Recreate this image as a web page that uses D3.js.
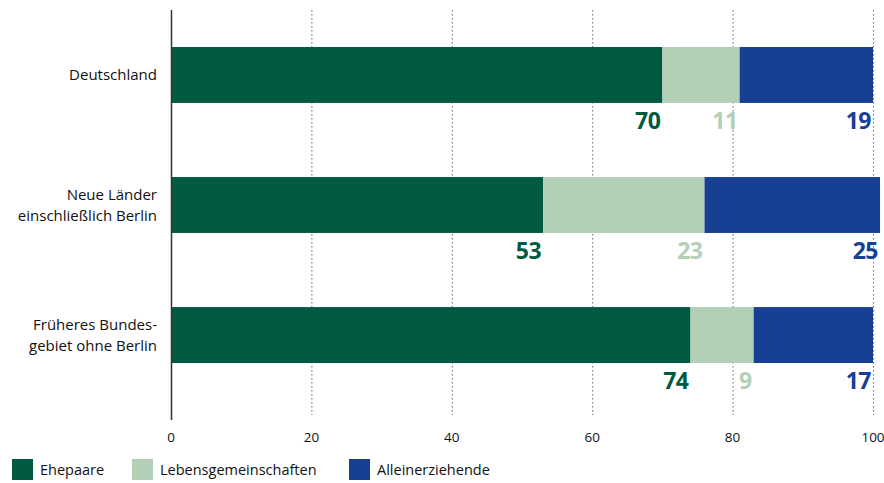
<!DOCTYPE html>
<html>
<head>
<meta charset="utf-8">
<script src="https://cdn.jsdelivr.net/npm/d3@7"></script>
<style>
  body { margin: 0; background: #fff; }
  svg { font-family: "Open Sans", "Noto Sans", sans-serif; }
</style>
</head>
<body>
<div id="chart"></div>
<script>
// Family types by region, in percent

var regions = [
    ["Deutschland"],
    ["Neue Länder", "einschließlich Berlin"],
    ["Früheres Bundes-", "gebiet ohne Berlin"]
];
var seriesNames = ["Ehepaare", "Lebensgemeinschaften", "Alleinerziehende"];
var ehepaare = [70, 53, 74];
var lebensgemeinschaften = [11, 23, 9];
var alleinerziehende = [19, 25, 17];
var xTicks = [0, 20, 40, 60, 80, 100];

var colors = ["#005a42", "#b3d0b6", "#173f94"];

var width = 884, height = 483;
var margin = { top: 10, left: 171, right: 11, bottom: 63 };

var rows = regions.map(function(r, i) {
    return {
        key: i,
        name: r,
        Ehepaare: ehepaare[i],
        Lebensgemeinschaften: lebensgemeinschaften[i],
        Alleinerziehende: alleinerziehende[i]
    };
});

var xScale = d3.scaleLinear()
    .domain([0, 100])
    .range([margin.left, 873]);

var yScale = d3.scaleBand()
    .domain(rows.map(function(d) { return d.key; }))
    .range([8, 402])
    .paddingInner(0.57)
    .paddingOuter(0.3);

var colorScale = d3.scaleOrdinal().domain(seriesNames).range(colors);

var svg = d3.select("#chart").append("svg")
    .attr("width", width)
    .attr("height", height);

// dotted grid lines
svg.append("g").selectAll("line")
    .data(xTicks.slice(1))
  .enter().append("line")
    .attr("x1", function(d) { return xScale(d) + 0.5; })
    .attr("x2", function(d) { return xScale(d) + 0.5; })
    .attr("y1", 10)
    .attr("y2", 415)
    .attr("stroke", "#666")
    .attr("stroke-width", 1)
    .attr("stroke-dasharray", "1.5,2.5");

var stack = d3.stack().keys(seriesNames);
var layers = stack(rows);

var layerG = svg.selectAll(".layer")
    .data(layers)
  .enter().append("g")
    .attr("class", "layer")
    .attr("fill", function(d) { return colorScale(d.key); });

layerG.selectAll("rect")
    .data(function(d) { return d; })
  .enter().append("rect")
    .attr("x", function(d) { return xScale(d[0]); })
    .attr("y", function(d) { return yScale(d.data.key); })
    .attr("width", function(d) { return xScale(d[1]) - xScale(d[0]); })
    .attr("height", yScale.bandwidth());

// value labels below each segment, right aligned
layerG.selectAll("text")
    .data(function(d) { return d.map(function(p) { p.k = d.key; return p; }); })
  .enter().append("text")
    .attr("x", function(d) { return xScale(d[1]) - 2; })
    .attr("y", function(d) { return yScale(d.data.key) + yScale.bandwidth() + 26; })
    .attr("text-anchor", "end")
    .attr("font-size", 23)
    .attr("font-weight", "bold")
    .attr("letter-spacing", -0.5)
    .text(function(d) { return d.data[d.k]; });

// axis line
svg.append("line")
    .attr("x1", xScale(0) + 0.5)
    .attr("x2", xScale(0) + 0.5)
    .attr("y1", 10)
    .attr("y2", 420)
    .attr("stroke", "#333")
    .attr("stroke-width", 1.5);

// tick labels
svg.append("g").selectAll("text")
    .data(xTicks)
  .enter().append("text")
    .attr("x", function(d) { return xScale(d); })
    .attr("y", 442)
    .attr("text-anchor", "middle")
    .attr("font-size", 13.5)
    .attr("fill", "#111")
    .text(function(d) { return d; });

// category labels, one text per line
var catG = svg.append("g").selectAll("g")
    .data(rows)
  .enter().append("g");

catG.selectAll("text")
    .data(function(d) {
        var c = yScale(d.key) + yScale.bandwidth() / 2;
        var top = c + 5 - (d.name.length - 1) * 10;
        return d.name.map(function(line, i) { return { line: line, y: top + i * 20.5 }; });
    })
  .enter().append("text")
    .attr("x", 157)
    .attr("y", function(d) { return d.y; })
    .attr("text-anchor", "end")
    .attr("font-size", 15)
    .attr("fill", "#111")
    .text(function(d) { return d.line; });

// legend
var legendX = [12, 132, 349];
var legend = svg.append("g").selectAll("g")
    .data(seriesNames)
  .enter().append("g")
    .attr("transform", function(d, i) { return "translate(" + legendX[i] + ",459)"; });

legend.append("rect")
    .attr("width", 21)
    .attr("height", 21)
    .attr("fill", function(d) { return colorScale(d); });

legend.append("text")
    .attr("x", 28)
    .attr("y", 16)
    .attr("font-size", 14.5)
    .attr("fill", "#111")
    .text(function(d) { return d; });
</script>
</body>
</html>
